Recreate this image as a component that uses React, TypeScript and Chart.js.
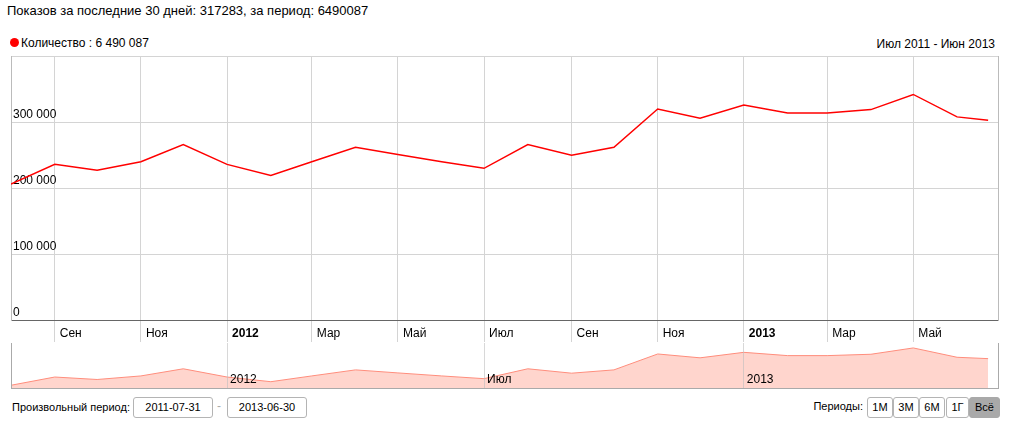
import React, { useEffect, useRef } from 'react';
import { Chart, registerables } from 'chart.js';

Chart.register(...registerables);

// ---- data ----
const pointDates = [
  '2011-08-01', '2011-09-01', '2011-10-01', '2011-11-01', '2011-12-01',
  '2012-01-01', '2012-02-01', '2012-03-01', '2012-04-01', '2012-05-01',
  '2012-06-01', '2012-07-01', '2012-08-01', '2012-09-01', '2012-10-01',
  '2012-11-01', '2012-12-01', '2013-01-01', '2013-02-01', '2013-03-01',
  '2013-04-01', '2013-05-01', '2013-06-01', '2013-06-23',
];
const viewCounts = [
  206000, 236000, 227000, 240000, 266000,
  236000, 219000, 240000, 262000, 251000,
  240000, 230000, 266000, 250000, 262000,
  320000, 306000, 326000, 314000, 314000,
  319000, 342000, 308000, 303000,
];
const rangeStart = '2011-08-01';
const rangeEnd = '2013-06-30';
const axisTickDates = [
  '2011-09-01', '2011-11-01', '2012-01-01', '2012-03-01', '2012-05-01', '2012-07-01',
  '2012-09-01', '2012-11-01', '2013-01-01', '2013-03-01', '2013-05-01',
];
const axisTickLabels = ['Сен', 'Ноя', '2012', 'Мар', 'Май', 'Июл', 'Сен', 'Ноя', '2013', 'Мар', 'Май'];
const navTickDates = ['2012-01-01', '2012-07-01', '2013-01-01'];
const navTickLabels = ['2012', 'Июл', '2013'];
const yTickValues = [0, 100000, 200000, 300000, 400000];
const navRange = [196000, 360000];
const periodButtons = ['1М', '3М', '6М', '1Г', 'Всё'];

const FONT = "'Liberation Sans', Arial, sans-serif";

const dayNum = (s: string) => {
  const [y, m, d] = s.split('-').map(Number);
  return Date.UTC(y, m - 1, d) / 86400000;
};
const fmt = (v: number) => String(v).replace(/\B(?=(\d{3})+(?!\d))/g, ' ');

// draws the navigator's tick labels inside the plot, on top of the area fill
const navLabelPlugin = {
  id: 'navLabels',
  afterDraw(chart: any) {
    const s = chart.scales.x;
    const ctx = chart.ctx;
    ctx.save();
    ctx.font = `12px ${FONT}`;
    ctx.fillStyle = '#000';
    ctx.textAlign = 'left';
    ctx.textBaseline = 'middle';
    s.ticks.forEach((t: any, i: number) => {
      ctx.fillText(navTickLabels[i], s.getPixelForValue(t.value) + 3, chart.chartArea.bottom - 8);
    });
    ctx.restore();
  },
};

export default function App() {
  const mainRef = useRef<HTMLCanvasElement>(null);
  const navRef = useRef<HTMLCanvasElement>(null);

  useEffect(() => {
    const xMin = dayNum(rangeStart);
    const xMax = dayNum(rangeEnd);
    const pts = pointDates.map((d, i) => ({ x: dayNum(d), y: viewCounts[i] }));
    const tickDays = axisTickDates.map(dayNum);
    const navDays = navTickDates.map(dayNum);

    const main = new Chart(mainRef.current!, {
      type: 'line',
      data: {
        datasets: [{
          data: pts,
          borderColor: '#ff0000',
          borderWidth: 1.5,
          pointRadius: 0,
          tension: 0,
          fill: false,
        }],
      },
      options: {
        animation: false,
        responsive: false,
        maintainAspectRatio: false,
        layout: { padding: { left: 11, right: 17, top: 5, bottom: 0 } },
        plugins: { legend: { display: false }, tooltip: { enabled: false } },
        scales: {
          x: {
            type: 'linear',
            min: xMin,
            max: xMax,
            position: 'bottom',
            afterBuildTicks: (s: any) => { s.ticks = tickDays.map((v) => ({ value: v })); },
            afterFit: (s: any) => { s.height = 22; },
            grid: { color: '#d4d4d4', tickColor: '#d4d4d4', tickLength: 22, drawTicks: true },
            border: { display: true, color: '#666666', width: 1 },
            ticks: {
              autoSkip: false,
              maxRotation: 0,
              align: 'start',
              labelOffset: 5,
              padding: -16,
              color: '#000',
              font: (ctx: any) => ({
                family: FONT,
                size: 12,
                weight: /^\d{4}$/.test(axisTickLabels[ctx.index] || '') ? 'bold' : 'normal',
              }),
              callback: (_v: any, i: number) => axisTickLabels[i],
            },
          },
          y: {
            type: 'linear',
            min: 0,
            max: 400000,
            position: 'left',
            afterBuildTicks: (s: any) => { s.ticks = yTickValues.map((v) => ({ value: v })); },
            afterFit: (s: any) => { s.width = 0; },
            grid: {
              color: (ctx: any) => (ctx.tick && ctx.tick.value === 0 ? '#666666' : '#d4d4d4'),
              drawTicks: false,
            },
            border: { display: true, color: '#bbbbbb' },
            ticks: {
              mirror: true,
              padding: 2,
              labelOffset: -7,
              color: '#000',
              font: { family: FONT, size: 12 },
              callback: (v: any) => (v === 400000 ? '' : fmt(v)),
            },
          },
          yR: {
            type: 'linear',
            position: 'right',
            display: true,
            afterFit: (s: any) => { s.width = 0; },
            grid: { display: false, drawTicks: false },
            ticks: { display: false },
            border: { display: true, color: '#bbbbbb' },
          },
        },
      } as any,
    });

    const nav = new Chart(navRef.current!, {
      type: 'line',
      data: {
        datasets: [{
          data: pts,
          borderColor: '#ff8d7c',
          backgroundColor: '#ffd5cd',
          borderWidth: 1,
          pointRadius: 0,
          tension: 0,
          fill: 'start',
        }],
      },
      plugins: [navLabelPlugin],
      options: {
        animation: false,
        responsive: false,
        maintainAspectRatio: false,
        layout: { padding: { left: 11, right: 17, top: 1, bottom: 1 } },
        plugins: { legend: { display: false }, tooltip: { enabled: false } },
        scales: {
          x: {
            type: 'linear',
            min: xMin,
            max: xMax,
            position: 'bottom',
            afterBuildTicks: (s: any) => { s.ticks = navDays.map((v) => ({ value: v })); },
            afterFit: (s: any) => { s.height = 0; },
            grid: { color: 'rgba(190,190,190,0.6)', drawTicks: false, z: 1 },
            border: { display: true, color: '#aaaaaa', z: 1 },
            ticks: { display: false },
          },
          y: {
            type: 'linear',
            min: navRange[0],
            max: navRange[1],
            position: 'left',
            afterFit: (s: any) => { s.width = 0; },
            grid: { display: false, drawTicks: false },
            ticks: { display: false },
            border: { display: true, color: '#aaaaaa', z: 1 },
          },
          yR: {
            type: 'linear',
            position: 'right',
            afterFit: (s: any) => { s.width = 0; },
            grid: { display: false, drawTicks: false },
            ticks: { display: false },
            border: { display: true, color: '#aaaaaa', z: 1 },
          },
        },
      } as any,
    });

    return () => { main.destroy(); nav.destroy(); };
  }, []);

  const box: React.CSSProperties = {
    position: 'absolute', top: 397, height: 19, lineHeight: '19px',
    border: '1px solid #b4b4b4', borderRadius: 3, textAlign: 'center',
    fontSize: 11, color: '#000', background: '#fff', boxSizing: 'content-box',
  };
  const btnPos = [[867, 24], [893, 24], [919, 24], [946, 21], [969, 29]];

  return (
    <div style={{ position: 'absolute', left: 0, top: 0, width: 1015, height: 427, fontFamily: FONT, color: '#000', background: '#fff', overflow: 'hidden' }}>
      <div style={{ position: 'absolute', left: 7, top: 3, fontSize: 13, lineHeight: '15px', whiteSpace: 'nowrap' }}>
        Показов за последние 30 дней: 317283, за период: 6490087
      </div>
      <div style={{ position: 'absolute', left: 10, top: 38, width: 9, height: 9, borderRadius: '50%', background: '#ff0000' }} />
      <div style={{ position: 'absolute', left: 21, top: 36, fontSize: 12, lineHeight: '14px', whiteSpace: 'nowrap' }}>
        Количество : 6 490 087
      </div>
      <div style={{ position: 'absolute', right: 20, top: 37, fontSize: 12, lineHeight: '14px', whiteSpace: 'nowrap' }}>
        Июл 2011 - Июн 2013
      </div>
      <canvas ref={mainRef} width={1015} height={295} style={{ position: 'absolute', left: 0, top: 47, width: 1015, height: 295 }} />
      <canvas ref={navRef} width={1015} height={47} style={{ position: 'absolute', left: 0, top: 342, width: 1015, height: 47 }} />
      <div style={{ position: 'absolute', left: 12, top: 400, fontSize: 11, lineHeight: '15px', whiteSpace: 'nowrap' }}>
        Произвольный период:
      </div>
      <div style={{ ...box, left: 133, width: 78 }}>2011-07-31</div>
      <div style={{ position: 'absolute', left: 217, top: 399, fontSize: 12, lineHeight: '15px', color: '#aaa' }}>-</div>
      <div style={{ ...box, left: 227, width: 78 }}>2013-06-30</div>
      <div style={{ position: 'absolute', right: 1015 - 863, top: 399, fontSize: 11, lineHeight: '15px', whiteSpace: 'nowrap' }}>
        Периоды:
      </div>
      {periodButtons.map((b, i) => {
        const last = i === periodButtons.length - 1;
        return (
          <div key={b} style={{
            ...box, left: btnPos[i][0], width: btnPos[i][1],
            background: last ? '#a9a9a9' : '#fff',
            border: last ? '1px solid #a9a9a9' : '1px solid #b4b4b4',
          }}>{b}</div>
        );
      })}
    </div>
  );
}
